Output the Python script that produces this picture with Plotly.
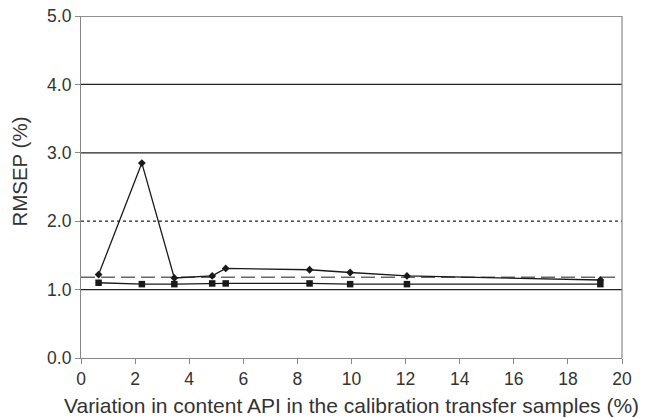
import plotly.graph_objects as go

# Variation in API content of the calibration transfer samples (%)
variation = [0.65, 2.25, 3.45, 4.85, 5.35, 8.45, 9.95, 12.05, 19.2]
# RMSEP (%) for the two transfer approaches
rmsep_a = [1.22, 2.85, 1.17, 1.20, 1.31, 1.29, 1.25, 1.20, 1.14]
rmsep_b = [1.10, 1.08, 1.08, 1.09, 1.09, 1.09, 1.08, 1.08, 1.08]
# Reference level drawn as a long-dashed line
reference_level = 1.18
# Horizontal guide lines
solid_levels = [1.0, 3.0, 4.0, 5.0]
dotted_levels = [2.0]

x_ticks = list(range(0, 21, 2))
y_ticks = [0.0, 1.0, 2.0, 3.0, 4.0, 5.0]

fig = go.Figure()

fig.add_trace(go.Scatter(
    x=variation, y=rmsep_a, mode="lines+markers",
    line=dict(color="#1a1a1a", width=1.3),
    marker=dict(symbol="diamond", size=6, color="#1a1a1a"),
    showlegend=False,
))
fig.add_trace(go.Scatter(
    x=variation, y=rmsep_b, mode="lines+markers",
    line=dict(color="#1a1a1a", width=1.3),
    marker=dict(symbol="square", size=6.5, color="#1a1a1a"),
    showlegend=False,
))

shapes = []
for lv in solid_levels:
    shapes.append(dict(type="line", xref="paper", yref="y", x0=0, x1=1, y0=lv, y1=lv,
                       line=dict(color="#222222", width=1.2), layer="below"))
for lv in dotted_levels:
    shapes.append(dict(type="line", xref="paper", yref="y", x0=0, x1=1, y0=lv, y1=lv,
                       line=dict(color="#222222", width=1.2, dash="3px,3px"), layer="below"))
shapes.append(dict(type="line", xref="paper", yref="y", x0=0, x1=0.99,
                   y0=reference_level, y1=reference_level,
                   line=dict(color="#666666", width=1.4, dash="14px,6px"), layer="below"))
# right edge of the plotting area
shapes.append(dict(type="line", xref="paper", yref="paper", x0=1, x1=1, y0=0, y1=1,
                   line=dict(color="#888888", width=1.2), layer="below"))

fig.update_layout(
    width=645, height=418,
    margin=dict(l=81, r=23, t=16, b=60),
    paper_bgcolor="white", plot_bgcolor="white",
    font=dict(family="Liberation Sans, Arial, sans-serif", size=17.5, color="#333333"),
    shapes=shapes,
    annotations=[
        dict(text="RMSEP (%)", textangle=-90, font=dict(size=20.5),
             xref="paper", yref="paper", x=0, y=0.545,
             xanchor="center", yanchor="middle", xshift=-61, showarrow=False),
        dict(text="Variation in content API in the calibration transfer samples (%)",
             font=dict(size=21),
             xref="paper", yref="paper", x=0.5, y=0,
             xanchor="center", yanchor="middle", yshift=-47, showarrow=False),
    ],
    xaxis=dict(
        range=[0, 20], tickvals=x_ticks, ticktext=[str(t) for t in x_ticks],
        showgrid=False, zeroline=False, automargin=False,
        showline=True, linecolor="#888888", linewidth=1.2,
        ticks="outside", ticklen=5, tickcolor="#888888",
    ),
    yaxis=dict(
        range=[0, 5], tickvals=y_ticks, ticktext=[f"{t:.1f}" for t in y_ticks],
        showgrid=False, zeroline=False, automargin=False,
        showline=True, linecolor="#888888", linewidth=1.2,
        ticks="outside", ticklen=5, tickcolor="#888888",
    ),
)

fig.write_html("out.html")
